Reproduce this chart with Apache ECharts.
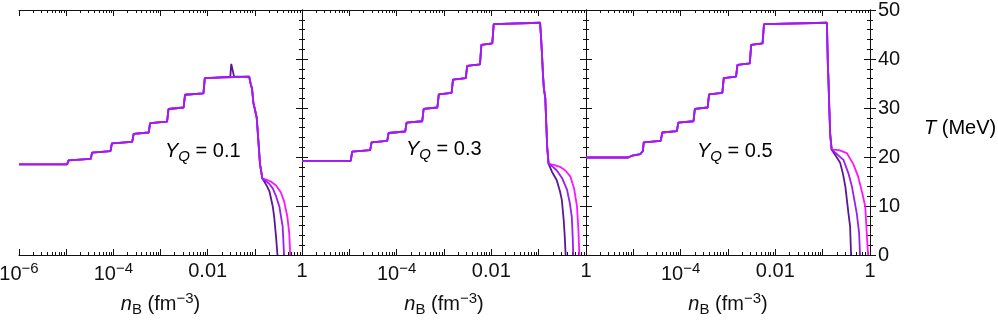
<!DOCTYPE html>
<html><head><meta charset="utf-8">
<script src="https://cdn.jsdelivr.net/npm/echarts@6/dist/echarts.min.js"></script>
<style>html,body{margin:0;padding:0;background:#fff}#c{width:998px;height:321px}</style>
</head><body><div id="c"></div>
<script>
// ---- axis definitions (x is log10 of n_B in fm^-3) ----
const xMajorExps = [-6, -5, -4, -3, -2, -1, 0];
const xLabelText = { '-6': '{t|10}{sup|−6}', '-4': '{t|10}{sup|−4}', '-2': '{t|0.01}', '0': '{t|1}' };
const xMinorMultipliers = [2, 3, 4, 5, 6, 7, 8, 9];
const yTickLabels = [0, 10, 20, 30, 40, 50];
const panelYQ = ['0.1', '0.3', '0.5'];
const lineColors = ['#5b1896', '#9a1ef2', '#ff14ff'];

// ---- panel 1, Y_Q = 0.1 : [log10 nB, T (MeV)] ----
const p1Steps = [[-6,18.5],[-4.98,18.5],[-4.95,19.3],[-4.93,19.6],[-4.48,19.6],[-4.45,20.9],[-4.43,21.2],[-4.06,21.2],[-4.03,22.8],[-4.01,23.1],[-3.60,23.1],[-3.57,24.7],[-3.55,25.0],[-3.25,25.0],[-3.22,26.9],[-3.20,27.2],[-2.86,27.2],[-2.83,29.8],[-2.81,30.1],[-2.51,30.1],[-2.48,32.7],[-2.46,33.0],[-2.09,33.0],[-2.06,36.1],[-2.04,36.4]];
const p1Spike = [[-1.52,36.4],[-1.50,39.0],[-1.46,39.0],[-1.44,36.4]];
const p1Drop = [[-1.12,36.4],[-1.09,35.0],[-1.06,34.0],[-1.03,31.0],[-1.00,29.8],[-0.96,28.0],[-0.93,24.0],[-0.89,18.5],[-0.84,15.6]];
const p1DarkTail = [[-0.80,15.0],[-0.74,14.0],[-0.69,13.0],[-0.62,9.9],[-0.59,7.8],[-0.55,3.7],[-0.52,0]];
const p1MidTail = [[-0.78,15.2],[-0.70,14.6],[-0.62,13.6],[-0.55,12.0],[-0.48,9.9],[-0.41,5.8],[-0.38,0]];
const p1MagTail = [[-0.76,15.4],[-0.66,15.0],[-0.55,14.2],[-0.45,12.8],[-0.38,11.0],[-0.31,7.8],[-0.27,4.4],[-0.25,0]];

// ---- panel 2, Y_Q = 0.3 ----
const p2Steps = [[-6,19.2],[-4.97,19.2],[-4.94,21.1],[-4.92,21.4],[-4.56,21.4],[-4.53,23.0],[-4.51,23.3],[-4.20,23.3],[-4.17,24.9],[-4.15,25.2],[-3.82,25.2],[-3.79,27.0],[-3.77,27.3],[-3.46,27.3],[-3.43,29.8],[-3.41,30.1],[-3.14,30.1],[-3.11,32.8],[-3.09,33.1],[-2.84,33.1],[-2.81,35.8],[-2.79,36.1],[-2.54,36.1],[-2.51,38.6],[-2.49,38.9],[-2.24,38.9],[-2.21,42.9],[-2.19,43.2],[-1.98,43.2],[-1.95,47.1],[-1.93,47.4]];
const p2Drop = [[-0.97,47.4],[-0.95,44.5],[-0.93,41.0],[-0.91,37.0],[-0.89,34.0],[-0.86,32.0],[-0.84,27.0],[-0.82,22.0],[-0.79,18.6]];
const p2DarkTail = [[-0.72,17.0],[-0.62,15.3],[-0.55,13.0],[-0.51,11.2],[-0.47,7.0],[-0.45,4.0],[-0.43,0]];
const p2MidTail = [[-0.70,18.0],[-0.62,17.3],[-0.50,15.6],[-0.40,13.3],[-0.34,10.5],[-0.30,7.8],[-0.28,3.5],[-0.27,0]];
const p2MagTail = [[-0.68,18.4],[-0.55,18.0],[-0.43,17.2],[-0.33,16.0],[-0.25,13.5],[-0.19,9.9],[-0.16,5.0],[-0.14,0]];

// ---- panel 3, Y_Q = 0.5 ----
const p3Steps = [[-6,19.9],[-5.11,19.9],[-5.02,20.3],[-4.85,20.6],[-4.80,21.2],[-4.78,23.0],[-4.76,23.3],[-4.42,23.3],[-4.39,25.0],[-4.37,25.3],[-4.08,25.3],[-4.05,27.0],[-4.03,27.3],[-3.73,27.3],[-3.70,29.8],[-3.68,30.1],[-3.43,30.1],[-3.40,32.8],[-3.38,33.1],[-3.12,33.1],[-3.09,36.1],[-3.07,36.4],[-2.83,36.4],[-2.80,38.8],[-2.78,39.1],[-2.54,39.1],[-2.51,42.9],[-2.49,43.2],[-2.27,43.2],[-2.24,47.1],[-2.22,47.4]];
const p3Drop = [[-0.91,47.4],[-0.90,43.0],[-0.89,38.5],[-0.88,36.5],[-0.86,30.0],[-0.84,24.5],[-0.81,21.5]];
const p3DarkTail = [[-0.72,20.2],[-0.63,18.8],[-0.57,16.5],[-0.52,13.9],[-0.455,8.5],[-0.42,5.8],[-0.40,0]];
const p3MidTail = [[-0.70,20.6],[-0.56,19.4],[-0.45,16.5],[-0.38,13.9],[-0.28,8.5],[-0.23,4.5],[-0.21,0]];
const p3MagTail = [[-0.65,21.4],[-0.49,20.8],[-0.35,18.5],[-0.25,16.0],[-0.16,12.5],[-0.10,9.9],[-0.06,3.0],[-0.04,0]];

const panels = [
  { dark: p1Steps.concat(p1Spike, p1Drop, p1DarkTail), mid: p1Steps.concat(p1Drop, p1MidTail), mag: p1Steps.concat(p1Drop, p1MagTail) },
  { dark: p2Steps.concat(p2Drop, p2DarkTail), mid: p2Steps.concat(p2Drop, p2MidTail), mag: p2Steps.concat(p2Drop, p2MagTail) },
  { dark: p3Steps.concat(p3Drop, p3DarkTail), mid: p3Steps.concat(p3Drop, p3MidTail), mag: p3Steps.concat(p3Drop, p3MagTail) }
];

// ---- build ----
const FONT = 'Liberation Sans, Arial, Helvetica, sans-serif';
const INK = '#111';
const FS = 20, FS_SMALL = 15;
const xMinorVals = [];
for (let d = -6; d < 0; d++) xMinorMultipliers.forEach(k => xMinorVals.push(d + Math.log10(k)));

const gridRects = [{ left: 19, width: 283 }, { left: 302, width: 284 }, { left: 586, width: 284 }];
const grid = gridRects.map(r => ({ left: r.left, width: r.width, top: 10, height: 245, outerBoundsMode: 'none', show: false }));

const xAxis = [], yAxis = [], series = [];
const rich = {
  t: { fontSize: FS, fontFamily: FONT, color: INK },
  i: { fontStyle: 'italic', fontSize: FS, fontFamily: FONT, color: INK },
  sup: { fontSize: FS_SMALL, fontFamily: FONT, color: INK, padding: [0, 0, 11, 0] },
  sub: { fontSize: FS_SMALL, fontFamily: FONT, color: INK, padding: [11, 0, 0, 0] },
  isub: { fontSize: FS_SMALL, fontStyle: 'italic', fontFamily: FONT, color: INK, padding: [11, 0, 0, 0] }
};
const lineS = { color: INK, width: 1 };

gridRects.forEach((r, gi) => {
  const base = { type: 'value', min: -6, max: 0, gridIndex: gi, splitLine: { show: false } };
  const mainIdx = xAxis.length;
  xAxis.push(Object.assign({}, base, {
    position: 'bottom', interval: 1,
    axisLine: { show: true, lineStyle: lineS },
    axisTick: { show: true, inside: true, length: 6, lineStyle: lineS },
    axisLabel: {
      show: true, margin: 6, fontSize: FS, fontFamily: FONT, color: INK,
      showMinLabel: gi === 0, showMaxLabel: true,
      formatter: v => xLabelText[String(Math.round(v))] || '', rich: rich
    },
    name: '{i|n}{sub|B}{t| (fm}{sup|−3}{t|)}', nameLocation: 'middle', nameGap: 36,
    nameTextStyle: { rich: rich }
  }));
  xAxis.push(Object.assign({}, base, {
    position: 'bottom',
    axisLine: { show: false },
    axisTick: { show: true, inside: true, length: 3, lineStyle: lineS, customValues: xMinorVals },
    axisLabel: { show: false }
  }));
  xAxis.push(Object.assign({}, base, {
    position: 'top', interval: 1,
    axisLine: { show: true, lineStyle: lineS },
    axisTick: { show: true, inside: true, length: 6, lineStyle: lineS },
    axisLabel: { show: false }
  }));
  xAxis.push(Object.assign({}, base, {
    position: 'top',
    axisLine: { show: false },
    axisTick: { show: true, inside: true, length: 3, lineStyle: lineS, customValues: xMinorVals },
    axisLabel: { show: false }
  }));
  const yBase = {
    type: 'value', min: 0, max: 50, interval: 10, gridIndex: gi, splitLine: { show: false },
    axisLine: { show: true, lineStyle: lineS },
    axisTick: { show: true, inside: true, length: 6, lineStyle: lineS },
    minorTick: { show: true, splitNumber: 5, length: 3, lineStyle: lineS }
  };
  const yMain = yAxis.length;
  yAxis.push(Object.assign({}, yBase, { position: 'left', axisLabel: { show: false } }));
  yAxis.push(Object.assign({}, yBase, {
    position: 'right',
    axisLabel: { show: gi === 2, margin: 8, fontSize: FS, fontFamily: FONT, color: INK,
      formatter: v => yTickLabels.indexOf(v) >= 0 ? '{t|' + v + '}' : '', rich: rich }
  }));
  const p = panels[gi];
  [['dark', 0], ['mag', 2], ['mid', 1]].forEach(([k, ci]) => {
    series.push({
      type: 'line', xAxisIndex: mainIdx, yAxisIndex: yMain, data: p[k],
      showSymbol: false, symbol: 'none', smooth: false, silent: true,
      lineStyle: { color: lineColors[ci], width: 1.8 }, z: 3
    });
  });
});

const yqPos = [[165, 141], [406, 139], [697, 141]];
const graphic = yqPos.map((pos, i) => ({
  type: 'text', left: pos[0], top: pos[1],
  style: { text: '{i|Y}{isub|Q}{t| = ' + panelYQ[i] + '}', rich: rich }
}));
graphic.push({
  type: 'text', left: 924, top: 118,
  style: { text: '{i|T}{t| (MeV)}', rich: rich }
});

const chart = echarts.init(document.getElementById('c'), null, { renderer: 'canvas' });
chart.setOption({
  animation: false, backgroundColor: '#fff',
  textStyle: { fontFamily: FONT },
  grid, xAxis, yAxis, series, graphic
});
</script></body></html>
